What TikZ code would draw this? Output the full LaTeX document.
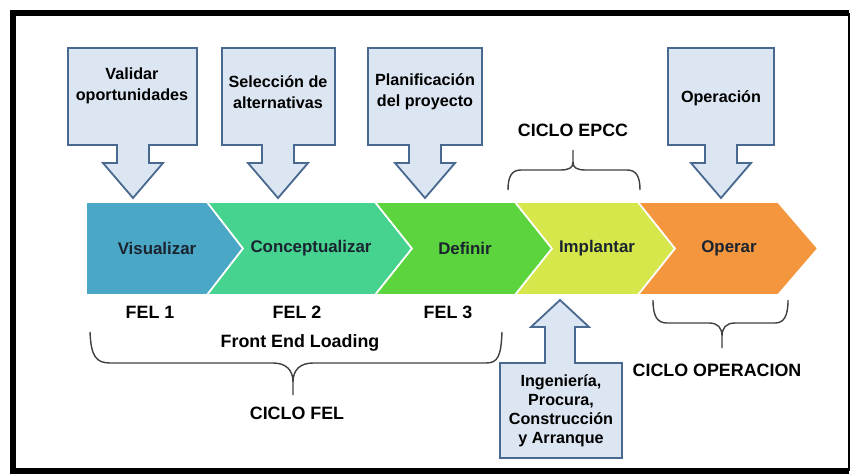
\documentclass[tikz,border=0pt]{standalone}
\usepackage{fontspec}
\setmainfont{Liberation Sans}
\usepackage{tikz}
\definecolor{visual}{HTML}{4BA7C6}
\definecolor{concep}{HTML}{46D38F}
\definecolor{defin}{HTML}{5CD43D}
\definecolor{implan}{HTML}{D5E74B}
\definecolor{opera}{HTML}{F4963D}
\definecolor{callfill}{HTML}{DCE6F2}
\definecolor{calldraw}{HTML}{4A6990}
\definecolor{bracegray}{HTML}{404040}
\definecolor{phasetext}{HTML}{1A2430}

\begin{document}
\begin{tikzpicture}[x=0.025cm, y=-0.025cm,
  phase/.style={draw=white, line width=1.2pt},
  callout/.style={draw=calldraw, fill=callfill, line width=1.3pt},
  lbl/.style={font=\bfseries\fontsize{12.7}{14}\selectfont, align=center, inner sep=0pt},
  phaselbl/.style={lbl, font=\bfseries\fontsize{12}{14}\selectfont, text=phasetext},
  boxlbl/.style={font=\bfseries\fontsize{11.5}{15}\selectfont, align=center, inner sep=0pt},
  cyclebrace/.style={draw=bracegray, line width=1pt}]
\useasboundingbox (0,0) rectangle (852,475);
% frame
\draw[line width=4.3pt] (849,13) -- (13,13) -- (13,471) -- (849,471);
\draw[line width=1.5pt] (849,13) -- (849,471);

% phases
\draw[phase, fill=visual] (86,202) -- (207,202) -- (243,248.5) -- (207,295) -- (86,295) -- cycle;
\draw[phase, fill=concep] (207,202) -- (375,202) -- (412,248.5) -- (375,295) -- (207,295) -- (243,248.5) -- cycle;
\draw[phase, fill=defin] (375,202) -- (515,202) -- (552,248.5) -- (515,295) -- (375,295) -- (412,248.5) -- cycle;
\draw[phase, fill=implan] (515,202) -- (638,202) -- (675,248.5) -- (638,295) -- (515,295) -- (552,248.5) -- cycle;
\draw[phase, fill=opera] (638,202) -- (778,202) -- (818,248.5) -- (778,295) -- (638,295) -- (675,248.5) -- cycle;
\node[phaselbl] (visualizar) at (157,248) {Visualizar};
\node[phaselbl] (conceptualizar) at (311,248) {Conceptualizar};
\node[phaselbl] (definir) at (465,248) {Definir};
\node[phaselbl] (implantar) at (597,248) {Implantar};
\node[phaselbl] (operar) at (729,248) {Operar};

% callouts
\foreach \l/\r/\c in {68/197/133, 222/335/278, 368/482/425, 668/774/721}
  \draw[callout] (\l,48) -- (\r,48) -- (\r,145) -- (\c+16,145) -- (\c+16,163) -- (\c+30,163)
    -- (\c,198) -- (\c-30,163) -- (\c-16,163) -- (\c-16,145) -- (\l,145) -- cycle;
\draw[callout] (500,458) -- (622,458) -- (622,363) -- (575,363) -- (575,327) -- (589,327)
  -- (560,300) -- (531,327) -- (545,327) -- (545,363) -- (500,363) -- cycle;
\node[boxlbl] (validar) at (132,86) {Validar\\oportunidades};
\node[boxlbl] (seleccion) at (278,92) {Selección de\\alternativas};
\node[boxlbl] (planificacion) at (425,92) {Planificación\\del proyecto};
\node[boxlbl] (operacion) at (721,98) {Operación};
\node[boxlbl, font=\bfseries\fontsize{11.5}{13.5}\selectfont] (ingenieria) at (561,411)
  {Ingeniería,\\Procura,\\Construcción\\y Arranque};

% labels
\node[lbl] (fel1) at (150,312) {FEL 1};
\node[lbl] (fel2) at (297,312) {FEL 2};
\node[lbl] (fel3) at (448,312) {FEL 3};
\node[lbl] (frontend) at (300,343) {Front End Loading};
\node[lbl] (ciclofel) at (297,413) {CICLO FEL};
\node[lbl] (cicloepcc) at (573,130) {CICLO EPCC};
\node[lbl] (ciclooper) at (717,370) {CICLO OPERACION};

% braces
\draw[cyclebrace] (90,332) .. controls (91,356) and (96,363) .. (110,363) -- (273,363)
  .. controls (286,363) and (293,370) .. (293,382) -- (293,395) -- (293,382)
  .. controls (293,370) and (300,363) .. (313,363) -- (486,363)
  .. controls (498,363) and (501,356) .. (502,332);
\draw[cyclebrace] (508,190) .. controls (508,176) and (512,170) .. (521,170) -- (560,170)
  .. controls (569,170) and (573,168) .. (573,162) -- (573,150) -- (573,162)
  .. controls (573,168) and (577,170) .. (586,170) -- (627,170)
  .. controls (636,170) and (640,176) .. (640,190);
\draw[cyclebrace] (653,300) .. controls (653,316) and (657,323) .. (667,323) -- (709,323)
  .. controls (718,323) and (722,328) .. (722,336) -- (722,348) -- (722,336)
  .. controls (722,328) and (726,323) .. (735,323) -- (775,323)
  .. controls (784,323) and (788,316) .. (788,300);
\end{tikzpicture}
\end{document}
